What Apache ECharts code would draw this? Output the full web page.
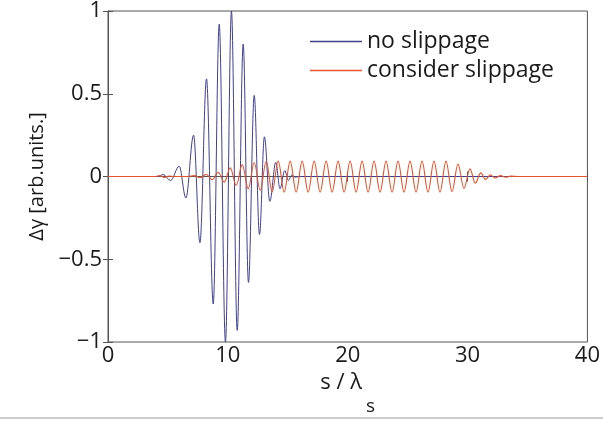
<!DOCTYPE html>
<html>
<head>
<meta charset="utf-8">
<script src="https://cdn.jsdelivr.net/npm/echarts@6/dist/echarts.min.js"></script>
<style>
html,body{margin:0;padding:0;background:#fff;}
#chart{width:603px;height:421px;}
</style>
</head>
<body>
<div id="chart"></div>
<script>
// ---- data ----
const seriesNames = ['no slippage', 'consider slippage'];

// "no slippage": extrema of the oscillation (s / lambda_s, delta gamma)
const blueS = [0, 4.2, 4.6, 5.22, 5.94, 6.5, 7.14, 7.67, 8.22, 8.78, 9.28, 9.8, 10.3, 10.78, 11.28, 11.72, 12.2, 12.64, 13.05, 13.5, 14.0, 14.35, 14.75, 15.05, 15.35, 15.6, 16.0, 40];
const blueV = [0, 0, 0.012, -0.024, 0.062, -0.13, 0.25, -0.40, 0.59, -0.77, 0.92, -1.0, 1.0, -0.93, 0.80, -0.64, 0.49, -0.35, 0.24, -0.15, 0.086, -0.074, 0.036, -0.024, 0.01, -0.004, 0, 0];

// "consider slippage": extrema of the oscillation
const redS = [0, 4.0, 4.3, 4.7, 5.1, 5.5, 6.7, 7.2, 7.7, 8.2, 8.7, 9.2, 9.7, 10.2, 10.7, 11.2, 11.7, 12.2, 12.7, 13.2, 13.7,
  14.2, 14.7, 15.2, 15.7, 16.2, 16.7, 17.2, 17.7, 18.2, 18.7, 19.2, 19.7, 20.2, 20.7, 21.2, 21.7, 22.2, 22.7, 23.2, 23.7,
  24.2, 24.7, 25.2, 25.7, 26.2, 26.7, 27.2, 27.7, 28.2, 28.7, 29.2, 29.7, 30.2, 30.65, 31.1, 31.5, 31.9, 32.3, 32.75, 33.2, 33.6, 34.2, 40];
const redV = [0, 0, 0.005, -0.005, 0.003, 0, 0, 0.005, -0.008, 0.014, -0.02, 0.026, -0.034, 0.052, -0.054, 0.072, -0.074, 0.085, -0.085, 0.092, -0.093,
  0.093, -0.094, 0.093, -0.094, 0.093, -0.094, 0.093, -0.094, 0.093, -0.094, 0.093, -0.094, 0.093, -0.094, 0.093, -0.094, 0.093, -0.094, 0.093, -0.094,
  0.093, -0.094, 0.093, -0.094, 0.093, -0.094, 0.093, -0.094, 0.093, -0.092, 0.075, -0.072, 0.046, -0.04, 0.022, -0.018, 0.01, -0.009, 0.005, -0.004, 0.002, 0, 0];

const xTicks = [0, 10, 20, 30, 40];
const yTicks = [-1, -0.5, 0, 0.5, 1];
const yTickLabels = ['\u22121', '\u22120.5', '0', '0.5', '1'];

// ---- chart ----
const font = 'Open Sans';
const txt = '#1a1a1a';
const blue = '#40408f';
const red = '#e4552d';
const chart = echarts.init(document.getElementById('chart'), null, {renderer: 'canvas'});
const toPairs = (xs, ys) => xs.map((x, i) => [x, ys[i]]);

const axisCommon = {
  axisLine: {show: true, lineStyle: {color: '#555', width: 1}},
  axisTick: {show: true, inside: true, length: 5, lineStyle: {color: '#555'}},
  splitLine: {show: false}
};

chart.setOption({
  animation: false,
  backgroundColor: '#fff',
  textStyle: {fontFamily: font},
  grid: {left: 108, right: 15, top: 10, bottom: 79, show: true, borderColor: '#555', borderWidth: 1, backgroundColor: 'transparent'},
  legend: {
    orient: 'vertical', left: 305, top: 25, itemWidth: 52, itemHeight: 1.3, itemGap: 6, icon: 'rect',
    textStyle: {fontSize: 23, color: txt, fontFamily: font},
    data: seriesNames
  },
  xAxis: [Object.assign({
    type: 'value', min: xTicks[0], max: xTicks[xTicks.length - 1], interval: 10,
    axisLabel: {fontSize: 22, color: txt, margin: 3, fontFamily: font},
    name: '{m|s / \u03bb}{sub|s}', nameLocation: 'middle', nameGap: 18,
    nameTextStyle: {fontSize: 22, color: txt, fontFamily: font, rich: {
      m: {fontSize: 22, lineHeight: 26, verticalAlign: 'top', fontFamily: font, color: txt},
      sub: {fontSize: 19, lineHeight: 26, verticalAlign: 'top', padding: [25, 0, 0, 4], fontFamily: font, color: txt}}}
  }, axisCommon), Object.assign({
    type: 'value', position: 'top', min: 0, max: 40, interval: 10, axisLabel: {show: false}
  }, axisCommon)],
  yAxis: [Object.assign({
    type: 'value', min: yTicks[0], max: yTicks[yTicks.length - 1], interval: 0.5,
    axisLabel: {fontSize: 22, color: txt, margin: 6, fontFamily: font,
      formatter: v => yTickLabels[yTicks.indexOf(v)]},
    name: '\u0394\u03b3 [arb.units.]', nameLocation: 'middle', nameGap: 60, nameRotate: 90,
    nameTextStyle: {fontSize: 20, color: txt, fontFamily: font}
  }, axisCommon), Object.assign({
    type: 'value', position: 'right', min: -1, max: 1, interval: 0.5, axisLabel: {show: false}
  }, axisCommon)],
  graphic: [{type: 'line', shape: {x1: 0, y1: 418, x2: 603, y2: 418}, style: {stroke: '#bbb', lineWidth: 1.5}, silent: true}],
  series: [
    {name: seriesNames[0], type: 'line', data: toPairs(blueS, blueV), showSymbol: false, symbol: 'none',
     smooth: 0.36, smoothMonotone: 'x', lineStyle: {color: blue, width: 1}, itemStyle: {color: blue}, z: 2},
    {name: seriesNames[1], type: 'line', data: toPairs(redS, redV), showSymbol: false, symbol: 'none',
     smooth: 0.36, smoothMonotone: 'x', lineStyle: {color: red, width: 1.1}, itemStyle: {color: red}, z: 3}
  ]
});
</script>
</body>
</html>
